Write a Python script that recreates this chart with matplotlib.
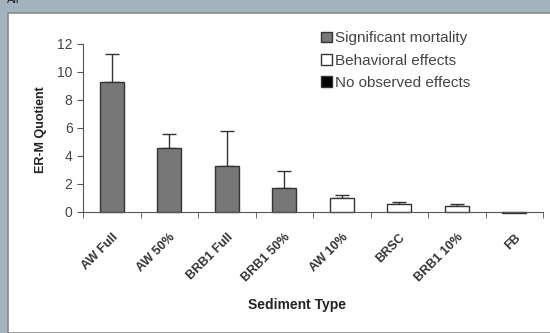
import numpy as np
import matplotlib
matplotlib.use('Agg')
from matplotlib import pyplot as plt
from matplotlib.patches import Rectangle, Patch

plt.rcParams['font.family'] = ['Liberation Sans', 'DejaVu Sans']

sediments = ['AW Full', 'AW 50%', 'BRB1 Full', 'BRB1 50%', 'AW 10%', 'BRSC', 'BRB1 10%', 'FB']
quotient = [9.3, 4.6, 3.3, 1.7, 1.0, 0.6, 0.45, -0.1]
err_plus = [2.0, 1.0, 2.5, 1.2, 0.2, 0.1, 0.1, 0.0]
effect = ['mort', 'mort', 'mort', 'mort', 'behav', 'behav', 'behav', 'none']

colors = {'mort': '#777777', 'behav': 'white', 'none': 'black'}
names = {'mort': 'Significant mortality', 'behav': 'Behavioral effects', 'none': 'No observed effects'}

fig = plt.figure(figsize=(5.5, 3.33), dpi=100)
# grey frame around the white panel
fig.patches.append(Rectangle((0, 0), 1, 1, transform=fig.transFigure, color='#a3b3be', zorder=-3))
fig.patches.append(Rectangle((8/550, 0), 1, 1 - 13/333, transform=fig.transFigure,
                             facecolor='white', edgecolor='#888888', lw=1.2, zorder=-2))
fig.text(0.012, 0.999, 'All', fontsize=8, va='center', color='#222222')

ax = fig.add_axes([83/550, 0.353, 460/550, 0.515])
x = np.arange(len(sediments))
for i in range(len(sediments)):
    ax.bar(x[i], quotient[i], width=0.42, color=colors[effect[i]], edgecolor='#333333', lw=1, zorder=2)
    if err_plus[i] > 0:
        ax.errorbar(x[i], quotient[i], yerr=[[0], [err_plus[i]]], color='#333333',
                    capsize=5, lw=1, capthick=1, zorder=1)

ax.set_xlim(-0.5, len(sediments) - 0.5)
ax.set_ylim(-0.25, 12)
ax.set_yticks(range(0, 13, 2))
ax.spines['top'].set_visible(False)
ax.spines['right'].set_visible(False)
ax.spines['bottom'].set_position(('data', 0))
ax.spines['left'].set_bounds(0, 12)
ax.spines['bottom'].set_color('#555555')
ax.spines['left'].set_color('#555555')
ax.set_xticks(x)
ax.set_xticklabels(sediments, rotation=45, ha='right', rotation_mode='anchor', fontsize=9,
                   fontweight='bold', color='#333333')
ax.tick_params(axis='x', length=0, pad=14)
ax.set_xticks(np.arange(-0.5, len(sediments)), minor=True)
ax.tick_params(axis='x', which='minor', length=4, direction='out', color='#555555')
ax.tick_params(axis='y', labelsize=10, colors='#444444', length=4, color='#555555')
ax.set_ylabel('ER-M Quotient', fontsize=9, fontweight='bold', color='#222222', labelpad=7)
ax.set_xlabel('Sediment Type', fontsize=10, fontweight='bold', color='#222222')
ax.xaxis.set_label_coords(0.465, -0.48)
ax.patch.set_alpha(0)

handles = [Patch(facecolor=colors[k], edgecolor='#333333', label=names[k]) for k in ['mort', 'behav', 'none']]
ax.legend(handles=handles, loc='upper left', bbox_to_anchor=(0.505, 1.11), frameon=False,
          fontsize=11, handlelength=0.7, handleheight=0.7, handletextpad=0.2, labelspacing=0.55,
          labelcolor='#444444', borderaxespad=0)

plt.savefig('out.png', dpi=100)
